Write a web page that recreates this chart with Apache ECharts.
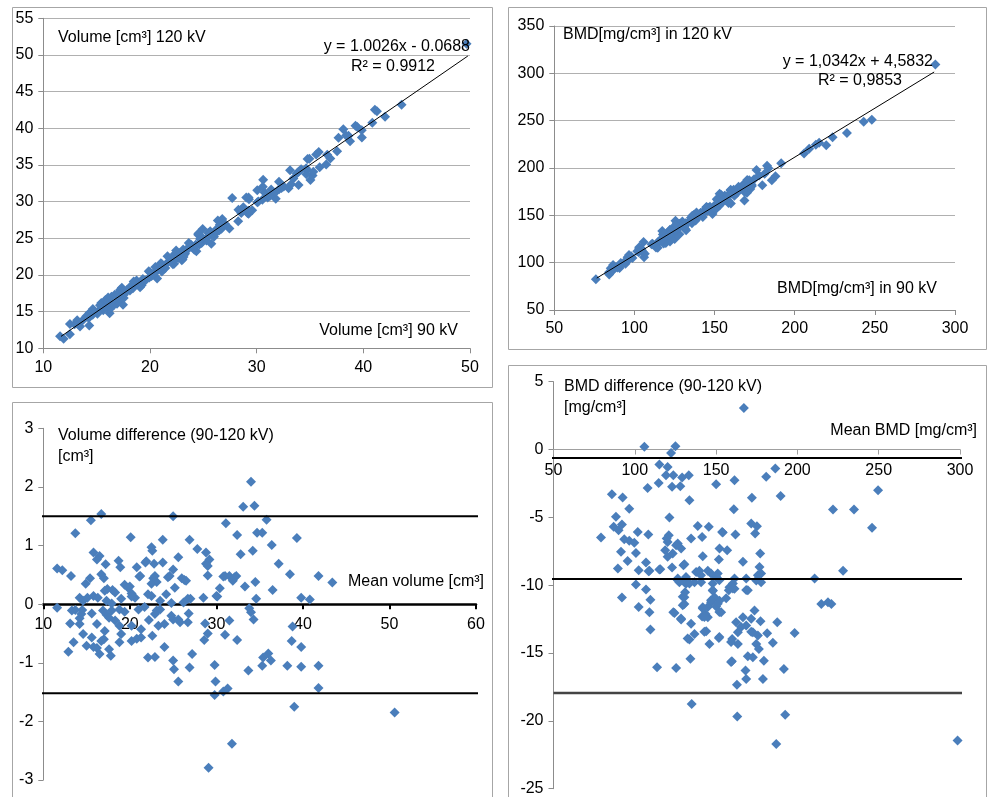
<!DOCTYPE html>
<html>
<head>
<meta charset="utf-8">
<script src="https://cdn.jsdelivr.net/npm/echarts@6.0.0/dist/echarts.min.js"></script>
<style>
html,body{margin:0;padding:0;background:#fff;}
#c{width:989px;height:797px;}
</style>
</head>
<body>
<div id="c"></div>
<script>
// Volume: Bland-Altman pairs [mean volume, difference 90-120 kV].
// The upper-left panel shows the same measurement pairs as (90 kV, 120 kV).
const volBA = [
[11.6,0.61],[12.2,0.58],[13.2,0.48],[13.7,1.21],[15.5,1.43],[16.7,1.54],[15.8,0.88],[16.5,0.82],[16.2,0.76],[17.2,0.68],
[16.7,0.51],[17.0,0.44],[14.9,0.35],[15.4,0.44],[17.4,0.26],[18.0,0.24],[18.7,0.74],[18.9,0.63],[20.1,1.14],[20.8,0.63],
[21.1,0.47],[19.4,0.33],[20.0,0.30],[21.8,0.71],[22.5,0.97],[22.6,0.91],[22.8,0.69],[23.8,1.10],[23.8,0.71],[22.7,0.44],
[23.1,0.38],[22.5,0.35],[25.0,1.50],[25.6,0.80],[25.0,0.59],[24.6,0.48],[26.0,0.44],[26.3,0.41],[26.9,1.10],[27.8,0.94],
[28.8,0.88],[28.8,0.69],[29.2,0.76],[29.0,0.49],[31.1,1.38],[30.8,0.47],[31.5,0.48],[31.9,0.40],[32.3,0.48],[30.4,0.27],
[32.4,1.18],[32.8,0.85],[33.1,1.66],[33.3,0.30],[34.0,2.09],[34.4,1.68],[34.2,0.91],[34.7,1.22],[35.3,1.22],[35.8,1.44],
[34.5,0.38],[36.4,1.01],[37.2,0.69],[36.5,0.24],[38.5,0.51],[39.3,1.13],[41.8,0.48],[43.4,0.37],
[14.2,0.11],[14.6,0.06],[15.8,0.14],[16.3,0.11],[17.1,0.23],[17.3,0.06],[17.9,0.01],[19.0,0.09],[20.2,0.18],[20.6,0.11],
[22.5,0.14],[23.5,0.06],[24.8,0.02],[18.3,0.20],[19.8,0.28],[21.2,0.48],[21.9,0.73],[22.9,0.48],[24.4,0.46],[24.2,0.17],
[25.2,0.28],[29.0,0.65],[26.5,0.40],[31.0,0.48],[32.1,0.46],[30.0,0.14],[28.5,0.11],[26.7,0.09],[26.2,0.03],[34.6,0.09],
[39.8,0.11],[40.8,0.08],[30.1,0.13],[22.1,0.17],[15.1,0.11],[20.2,0.13],[27.0,0.09],
[11.6,-0.06],[13.1,-0.33],[13.7,-0.10],[14.2,-0.24],[14.5,-0.10],[14.6,-0.51],[13.5,-0.65],[12.9,-0.81],[15.0,-0.71],[15.8,-0.73],
[16.2,-0.75],[16.5,-0.85],[17.0,-0.60],[17.6,-0.77],[17.8,-0.88],[16.2,-0.34],[15.6,-0.16],[17.3,-0.18],[17.6,-0.23],[18.3,-0.28],
[18.8,-0.65],[19.0,-0.51],[19.4,-0.13],[20.2,-0.63],[20.8,-0.59],[21.3,-0.57],[21.3,-0.43],[21.7,-0.05],[22.1,-0.91],[22.9,-0.90],
[22.6,-0.54],[22.2,-0.27],[23.1,-0.11],[23.3,-0.37],[24.0,-0.34],[24.0,-0.73],[25.0,-0.96],[25.1,-1.11],[25.6,-1.32],[25.0,-0.26],
[25.8,-0.31],[26.7,-0.31],[26.8,-0.16],[27.2,-0.85],[26.9,-1.08],[28.7,-0.33],[28.6,-0.61],[29.0,-0.50],[29.1,-2.79],[29.8,-1.04],
[29.9,-1.32],[29.8,-1.55],[30.8,-1.49],[31.3,-1.44],[31.5,-0.28],[31.0,-0.52],[32.4,-0.61],[31.8,-2.38],[33.7,-1.13],[33.8,-0.07],
[34.0,-0.14],[34.3,-0.26],[35.3,-1.05],[35.4,-0.91],[36.0,-0.84],[36.3,-0.96],[38.2,-1.05],[38.8,-0.38],[38.7,-0.63],[39.0,-1.75],
[39.8,-0.73],[39.8,-1.07],[41.8,-1.05],[41.8,-1.43],[50.6,-1.85],
[13.3,-0.11],[14.4,-0.17],[16.9,-0.11],[17.9,-0.11],[18.8,-0.09],[21.0,-0.09],[22.9,-0.17],[23.5,-0.09],[24.8,-0.20],[14.2,-0.34],
[17.1,-0.46],[18.8,-0.37],[20.2,-0.37],[15.6,-0.57],[16.7,-0.63],[25.6,-0.26]
];

// BMD: Bland-Altman pairs [mean BMD, difference 90-120 kV].
const bmdBA = [
[167.1,3.07],[105.9,0.20],[125.0,0.25],[122.3,-0.25],[115.1,-1.10],[120.2,-1.28],[119.2,-1.89],[123.7,-1.89],[129.1,-2.06],[133.2,-1.89],
[122.9,-2.75],[128.0,-2.70],[114.7,-2.46],[107.9,-2.83],[85.9,-3.29],[92.5,-3.54],[96.6,-4.37],[133.6,-3.73],[161.3,-2.26],[150.0,-2.56],
[186.4,-1.40],[180.8,-2.01],[189.7,-3.42],[172.0,-3.56],[160.9,-4.40],[121.3,-5.01],[88.4,-4.96],[87.0,-5.70],[90.0,-5.95],[92.1,-5.53],
[79.2,-6.49],[93.5,-6.61],[96.6,-6.73],[99.7,-6.88],[101.8,-6.07],[108.3,-6.27],[100.7,-7.62],[91.5,-7.54],[95.6,-8.21],[106.9,-8.33],
[89.6,-8.77],[102.4,-8.89],[109.0,-8.94],[115.7,-8.82],[120.9,-6.31],[120.2,-6.81],[118.7,-7.42],[120.2,-7.91],[123.3,-7.67],[126.4,-6.93],
[128.5,-7.30],[130.5,-8.45],[134.6,-6.56],[138.7,-5.63],[141.4,-6.44],[145.5,-5.70],[141.8,-7.86],[152.1,-7.30],[154.1,-6.12],[156.8,-7.42],
[151.7,-8.11],[161.9,-6.27],[166.5,-8.28],[171.6,-5.45],[174.0,-6.19],[175.1,-5.65],[177.1,-7.67],[176.7,-8.65],[221.9,-4.42],[234.8,-4.42],
[249.6,-3.00],[245.9,-5.77],[228.1,-8.94],[210.6,-9.51],[137.7,-9.02],[139.7,-8.94],[144.9,-8.94],[151.0,-9.14],[161.3,-9.51],[168.5,-9.51],
[177.7,-9.14],[126.4,-9.51],[131.5,-9.39],
[92.1,-10.90],[100.7,-9.95],[102.4,-11.60],[106.9,-10.32],[109.6,-11.08],[109.0,-12.00],[109.6,-13.27],[113.7,-16.05],[125.4,-16.10],[123.7,-12.00],
[128.5,-12.53],[130.5,-11.38],[130.5,-10.89],[130.9,-10.52],[127.4,-9.78],[131.5,-9.90],[134.6,-12.85],[133.6,-14.01],[136.7,-13.59],[134.2,-15.43],
[135.0,-18.75],[136.7,-9.78],[140.8,-9.78],[143.9,-13.40],[145.9,-14.33],[141.8,-11.62],[141.4,-12.31],[144.9,-12.36],[143.5,-12.12],[148.0,-10.40],
[149.0,-10.89],[146.9,-11.26],[150.0,-11.57],[152.1,-11.14],[153.1,-12.00],[151.7,-13.89],[156.2,-10.97],[158.2,-10.15],[161.3,-10.27],[168.5,-10.35],
[159.7,-15.60],[159.9,-13.96],[163.4,-14.33],[162.3,-12.73],[163.4,-13.47],[166.5,-12.36],[168.5,-12.97],[171.6,-12.48],[173.6,-11.87],[172.6,-13.47],
[175.7,-13.71],[177.3,-12.66],[174.7,-14.33],[176.3,-14.70],[169.5,-15.24],[172.6,-15.31],[168.1,-16.29],[168.5,-16.91],[162.8,-17.33],[178.8,-16.91],
[179.4,-15.56],[181.4,-13.54],[184.9,-14.25],[187.6,-12.73],[191.7,-16.17],[198.3,-13.52],[163.0,-19.68],[192.5,-19.54],[187.0,-21.70],[298.5,-21.45],
[214.7,-11.38],[218.8,-11.26],[220.9,-11.38],[177.7,-9.78],[174.7,-9.66],
[129.9,-8.53],[140.7,-9.27],[146.9,-9.14],[150.0,-9.39],[152.0,-9.63],[130.5,-9.76],[133.6,-9.88],[147.9,-9.88],[160.3,-9.88],[157.8,-10.37],
[175.7,-9.27],[169.5,-10.37],[147.9,-10.37],[146.9,-11.11],[151.0,-11.36],[144.9,-11.60],[141.8,-11.72],[142.8,-12.34],[152.0,-11.97],[129.5,-10.86],
[129.5,-11.48],[128.4,-12.46],[132.5,-13.93],[142.8,-13.44],[152.0,-13.81],[165.4,-13.08],[159.2,-14.18],[159.2,-15.66],[153.7,-6.07],[122.9,-8.70],
[126.4,-9.63],[124.4,-12.04],[119.6,-6.56],[125.4,-7.05],[108.5,-8.97],[115.1,-8.85],[160.3,-10.25],[171.6,-13.44]
];

// trend lines (endpoints on the fitted lines shown in the equations)
const volFit = [[11.66, 11.62], [49.8, 49.86]];
const bmdFit = [[76.5, 83.7], [287, 301.4]];

// limits of agreement
const volLimits = [1.5, -1.52];
const volLimitSpan = [9.6, 61.4];
const bmdLimits = [-0.62, -9.55, -17.95];
const bmdLimitSpan = [45.3, 316.4];

// tick values
const volScatterX = [10, 20, 30, 40, 50];
const volScatterY = [10, 15, 20, 25, 30, 35, 40, 45, 50, 55];
const bmdScatterX = [50, 100, 150, 200, 250, 300];
const bmdScatterY = [50, 100, 150, 200, 250, 300, 350];
const volDiffX = [10, 20, 30, 40, 50, 60];
const volDiffY = [-3, -2, -1, 0, 1, 2, 3];
const bmdDiffX = [50, 100, 150, 200, 250, 300];
const bmdDiffY = [-25, -20, -15, -10, -5, 0, 5];

// texts
const texts = {
  volY: 'Volume [cm³] 120 kV', volX: 'Volume [cm³] 90 kV',
  volEq: 'y = 1.0026x - 0.0688', volR2: 'R² = 0.9912',
  bmdY: 'BMD[mg/cm³] in 120 kV', bmdX: 'BMD[mg/cm³] in 90 kV',
  bmdEq: 'y = 1,0342x + 4,5832', bmdR2: 'R² = 0,9853',
  volDiff1: 'Volume difference (90-120 kV)', volDiff2: '[cm³]', volMean: 'Mean volume [cm³]',
  bmdDiff1: 'BMD difference (90-120 kV)', bmdDiff2: '[mg/cm³]', bmdMean: 'Mean BMD [mg/cm³]'
};

// scatter panels: same pairs expressed as (90 kV, 120 kV)
const volPairs = volBA.map(p => [p[0] + p[1] / 2, p[0] - p[1] / 2]);
const bmdPairs = bmdBA.map(p => [p[0] + p[1] / 2, p[0] - p[1] / 2]);

const FONT = '"Liberation Sans", Arial, Helvetica, sans-serif';
const BLUE = '#4a7ebb';
const AXIS_GRAY = '#8c8c8c';

const grids = [
  { left: 43.3, top: 18.3, width: 426.7, height: 330, outerBoundsMode: 'none', containLabel: false },
  { left: 554.3, top: 26, width: 400.7, height: 284, outerBoundsMode: 'none', containLabel: false },
  { left: 43.3, top: 428.3, width: 432.7, height: 351.7, outerBoundsMode: 'none', containLabel: false },
  { left: 553.5, top: 381.7, width: 406.5, height: 407, outerBoundsMode: 'none', containLabel: false }
];
// offset that lifts a bottom x axis up to the y = 0 line of its grid
function zeroOffset(gi, yTicks) {
  const g = grids[gi], lo = yTicks[0], hi = yTicks[yTicks.length - 1];
  return -g.height * (0 - lo) / (hi - lo);
}

function axis(gridIndex, ticks, extra) {
  const base = {
    type: 'value', gridIndex,
    min: ticks[0], max: ticks[ticks.length - 1], interval: ticks[1] - ticks[0],
    axisLine: { show: true, onZero: false, lineStyle: { color: AXIS_GRAY, width: 1 } },
    axisTick: { show: true, length: 5, lineStyle: { color: AXIS_GRAY } },
    axisLabel: { color: '#000', fontSize: 16, fontFamily: FONT, margin: 10 },
    splitLine: { show: false }
  };
  return Object.assign(base, extra || {});
}

const chart = echarts.init(document.getElementById('c'), null, { renderer: 'canvas' });

function txt(x, y, text, align) {
  return { type: 'text', x, y, z: 100,
    style: { text, fill: '#000', font: '16px ' + FONT, textAlign: align || 'left', textVerticalAlign: 'middle', verticalAlign: 'middle' } };
}
function box(x, y, w, h) {
  return { type: 'rect', z: 0, shape: { x, y, width: w, height: h },
    style: { fill: 'none', stroke: '#a6a6a6', lineWidth: 1 } };
}

function hLine(name, xi, span, value, color, width) {
  return { type: 'line', name, xAxisIndex: xi, yAxisIndex: xi, clip: false, symbol: 'none', silent: true,
    data: [[span[0], value], [span[1], value]], lineStyle: { color, width }, z: 3 };
}

function scatter(i, data) {
  return { type: 'scatter', xAxisIndex: i, yAxisIndex: i, data, symbol: 'diamond', symbolSize: 10,
    itemStyle: { color: BLUE, opacity: 1 }, z: 2 };
}

const option = {
  animation: false,
  backgroundColor: '#fff',
  grid: grids,
  xAxis: [
    axis(0, volScatterX, { axisLabel: { color: '#000', fontSize: 16, fontFamily: FONT, margin: 11 } }),
    axis(1, bmdScatterX, { axisLabel: { color: '#000', fontSize: 16, fontFamily: FONT, margin: 11 } }),
    axis(2, volDiffX, {
      position: 'bottom', offset: zeroOffset(2, volDiffY),
      axisLine: { show: true, onZero: false, lineStyle: { color: '#000', width: 2.5 } },
      axisTick: { show: true, length: 5, lineStyle: { color: '#000', width: 2 } },
      axisLabel: { color: '#000', fontSize: 16, fontFamily: FONT, margin: 12 }
    }),
    axis(3, bmdDiffX, {
      position: 'bottom', offset: zeroOffset(3, bmdDiffY),
      axisLine: { show: true, onZero: false, lineStyle: { color: '#a0a0a0', width: 1 } },
      axisTick: { show: true, length: 5, lineStyle: { color: '#a0a0a0' } },
      axisLabel: { color: '#000', fontSize: 16, fontFamily: FONT, margin: 13 }
    })
  ],
  yAxis: [
    axis(0, volScatterY, { splitLine: { show: true, lineStyle: { color: '#b0b0b0', width: 1 } } }),
    axis(1, bmdScatterY, { splitLine: { show: true, lineStyle: { color: '#b0b0b0', width: 1 } } }),
    axis(2, volDiffY),
    axis(3, bmdDiffY)
  ],
  series: [
    scatter(0, volPairs),
    { type: 'line', xAxisIndex: 0, yAxisIndex: 0, data: volFit, symbol: 'none', lineStyle: { color: '#000', width: 1 }, z: 4 },
    scatter(1, bmdPairs),
    { type: 'line', xAxisIndex: 1, yAxisIndex: 1, data: bmdFit, symbol: 'none', lineStyle: { color: '#000', width: 1 }, z: 4 },
    scatter(2, volBA),
    hLine('vol upper', 2, volLimitSpan, volLimits[0], '#000', 2),
    hLine('vol lower', 2, volLimitSpan, volLimits[1], '#000', 2),
    scatter(3, bmdBA),
    hLine('bmd upper', 3, bmdLimitSpan, bmdLimits[0], '#000', 2),
    hLine('bmd mean', 3, bmdLimitSpan, bmdLimits[1], '#000', 2),
    hLine('bmd lower', 3, [50, bmdLimitSpan[1]], bmdLimits[2], '#444', 2.5)
  ],
  graphic: [
    box(12.5, 7.5, 480, 380),
    box(508.5, 7.5, 478, 342),
    box(12.5, 402.5, 480, 400),
    box(508.5, 365.5, 478, 440),
    txt(58, 38, texts.volY),
    txt(470, 47, texts.volEq, 'right'),
    txt(435, 67, texts.volR2, 'right'),
    txt(458, 331, texts.volX, 'right'),
    txt(563, 35, texts.bmdY),
    txt(933, 62, texts.bmdEq, 'right'),
    txt(902, 81, texts.bmdR2, 'right'),
    txt(937, 289, texts.bmdX, 'right'),
    txt(58, 436, texts.volDiff1),
    txt(58, 457, texts.volDiff2),
    txt(348, 582, texts.volMean),
    txt(564, 387, texts.bmdDiff1),
    txt(564, 408, texts.bmdDiff2),
    txt(977, 431, texts.bmdMean, 'right')
  ]
};
chart.setOption(option);
</script>
</body>
</html>
